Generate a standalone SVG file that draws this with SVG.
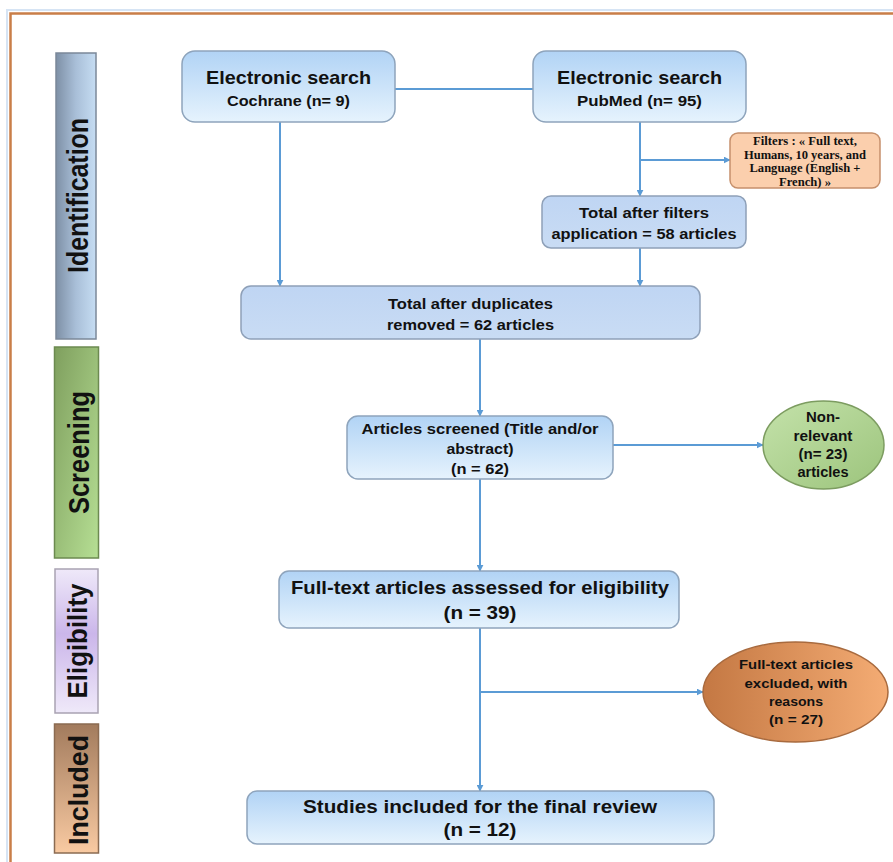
<svg xmlns="http://www.w3.org/2000/svg" width="893" height="862" viewBox="0 0 893 862">
<defs>
  <linearGradient id="gBox" x1="0" y1="0" x2="0" y2="1">
    <stop offset="0" stop-color="#b1d3f5"/>
    <stop offset="1" stop-color="#e6f3fd"/>
  </linearGradient>
  <linearGradient id="gTot" x1="0" y1="0" x2="0" y2="1">
    <stop offset="0" stop-color="#bfd5f3"/>
    <stop offset="1" stop-color="#c9dcf4"/>
  </linearGradient>
  <linearGradient id="gIdent" x1="0" y1="0" x2="1" y2="0">
    <stop offset="0" stop-color="#7e90a6"/>
    <stop offset="0.5" stop-color="#a9bfd8"/>
    <stop offset="1" stop-color="#c6ddf3"/>
  </linearGradient>
  <linearGradient id="gScreen" x1="0" y1="0" x2="1" y2="1">
    <stop offset="0" stop-color="#7f9f5e"/>
    <stop offset="1" stop-color="#b6df94"/>
  </linearGradient>
  <linearGradient id="gElig" x1="0" y1="0" x2="0" y2="1">
    <stop offset="0" stop-color="#efe9f9"/>
    <stop offset="0.45" stop-color="#cbb6ea"/>
    <stop offset="1" stop-color="#efe9f9"/>
  </linearGradient>
  <linearGradient id="gIncl" x1="0" y1="0" x2="0" y2="1">
    <stop offset="0" stop-color="#a27b5d"/>
    <stop offset="1" stop-color="#f9caa2"/>
  </linearGradient>
  <linearGradient id="gGreen" x1="0" y1="0" x2="1" y2="1">
    <stop offset="0" stop-color="#c4e2aa"/>
    <stop offset="1" stop-color="#9cc47c"/>
  </linearGradient>
  <linearGradient id="gOrange" x1="0" y1="0" x2="1" y2="0">
    <stop offset="0" stop-color="#c47843"/>
    <stop offset="1" stop-color="#f4ac74"/>
  </linearGradient>
  <marker id="arr" viewBox="0 0 10 10" refX="9" refY="5" markerWidth="3.5" markerHeight="3.5" orient="auto">
    <path d="M0,0 L10,5 L0,10 z" fill="#5b9bd5"/>
  </marker>
</defs>
<style>
  .box { fill: url(#gBox); stroke: #8ea4bc; stroke-width: 1.5; }
  .tot { fill: url(#gTot); stroke: #8ea0b8; stroke-width: 1.5; }
  .t { font-family: "Liberation Sans", Arial, sans-serif; font-weight: bold; fill: #111; text-anchor: middle; }
  .tf { font-family: "Liberation Serif", "Times New Roman", serif; font-weight: bold; fill: #111; text-anchor: middle; font-size: 12.5px; }
  .ph { font-family: "Liberation Sans", Arial, sans-serif; font-weight: bold; fill: #111; text-anchor: middle; font-size: 30px; }
  .c { fill: none; stroke: #5b9bd5; stroke-width: 2; }
  .ca { fill: none; stroke: #5b9bd5; stroke-width: 2; marker-end: url(#arr); }
</style>
<rect x="0" y="0" width="893" height="862" fill="#ffffff"/>
<!-- frame -->
<path d="M7,862 V10 H893" fill="none" stroke="#d6e4f4" stroke-width="2"/>
<path d="M10.5,862 V13.5 H893" fill="none" stroke="#c97e48" stroke-width="2.5"/>

<!-- phase bars -->
<g id="phase-identification">
  <rect x="56" y="53" width="40" height="286" fill="url(#gIdent)" stroke="#7b8899" stroke-width="1.5"/>
  <text class="ph" transform="translate(88,195.5) rotate(-90)" textLength="155" lengthAdjust="spacingAndGlyphs">Identification</text>
</g>
<g id="phase-screening">
  <rect x="54.5" y="347" width="44" height="211" fill="url(#gScreen)" stroke="#6c8a50" stroke-width="1.5"/>
  <text class="ph" transform="translate(89,452.5) rotate(-90)" textLength="123" lengthAdjust="spacingAndGlyphs">Screening</text>
</g>
<g id="phase-eligibility">
  <rect x="55" y="569" width="43" height="144" fill="url(#gElig)" stroke="#a9a2b2" stroke-width="1.5"/>
  <text class="ph" style="font-size:28px" transform="translate(87,641) rotate(-90)" textLength="115" lengthAdjust="spacingAndGlyphs">Eligibility</text>
</g>
<g id="phase-included">
  <rect x="54.5" y="724" width="44" height="129" fill="url(#gIncl)" stroke="#8b6b52" stroke-width="1.5"/>
  <text class="ph" style="font-size:28px" transform="translate(88,790) rotate(-90)" textLength="110" lengthAdjust="spacingAndGlyphs">Included</text>
</g>

<!-- connectors -->
<g id="connectors">
  <path class="c" d="M395,89 H533"/>
  <path class="ca" d="M280,122 V286"/>
  <path class="ca" d="M640,122 V196"/>
  <path class="ca" d="M640,160 H730"/>
  <path class="ca" d="M640,248 V286"/>
  <path class="ca" d="M480,339 V416"/>
  <path class="ca" d="M613,445 H763"/>
  <path class="ca" d="M480,479 V571"/>
  <path class="ca" d="M480,628 V791"/>
  <path class="ca" d="M480,692 H703"/>
</g>

<!-- nodes -->
<g id="cochrane">
  <rect class="box" x="182" y="51" width="213" height="71" rx="13"/>
  <text class="t" x="288.5" y="83.5" font-size="19" textLength="165" lengthAdjust="spacingAndGlyphs">Electronic search</text>
  <text class="t" x="288.5" y="105.5" font-size="15.5" textLength="123" lengthAdjust="spacingAndGlyphs">Cochrane (n= 9)</text>
</g>
<g id="pubmed">
  <rect class="box" x="533" y="51" width="213" height="71" rx="13"/>
  <text class="t" x="639.5" y="83.5" font-size="19" textLength="165" lengthAdjust="spacingAndGlyphs">Electronic search</text>
  <text class="t" x="639.5" y="105.5" font-size="15.5" textLength="125" lengthAdjust="spacingAndGlyphs">PubMed (n= 95)</text>
</g>
<g id="filters">
  <rect x="730" y="133" width="150" height="55" rx="8" fill="#fbcfad" stroke="#c6906c" stroke-width="1.5"/>
  <text class="tf" x="805" y="145" textLength="104" lengthAdjust="spacingAndGlyphs">Filters : « Full text,</text>
  <text class="tf" x="805" y="158.5" textLength="122" lengthAdjust="spacingAndGlyphs">Humans, 10 years, and</text>
  <text class="tf" x="805" y="172" textLength="111" lengthAdjust="spacingAndGlyphs">Language (English +</text>
  <text class="tf" x="805" y="185.5" textLength="52" lengthAdjust="spacingAndGlyphs">French) »</text>
</g>
<g id="after-filters">
  <rect class="tot" x="542" y="196" width="204" height="52" rx="9"/>
  <text class="t" x="644" y="217.5" font-size="15" textLength="130" lengthAdjust="spacingAndGlyphs">Total after filters</text>
  <text class="t" x="644" y="238.5" font-size="15" textLength="185" lengthAdjust="spacingAndGlyphs">application = 58 articles</text>
</g>
<g id="after-duplicates">
  <rect class="tot" x="241" y="286" width="459" height="53" rx="10"/>
  <text class="t" x="470.5" y="308.5" font-size="15" textLength="165" lengthAdjust="spacingAndGlyphs">Total after duplicates</text>
  <text class="t" x="470.5" y="329.5" font-size="15" textLength="167" lengthAdjust="spacingAndGlyphs">removed = 62 articles</text>
</g>
<g id="screened">
  <rect class="box" x="347" y="416" width="266" height="63" rx="11"/>
  <text class="t" x="480" y="433.5" font-size="15" textLength="237" lengthAdjust="spacingAndGlyphs">Articles screened (Title and/or</text>
  <text class="t" x="480" y="453.5" font-size="15" textLength="67" lengthAdjust="spacingAndGlyphs">abstract)</text>
  <text class="t" x="480" y="473.5" font-size="15" textLength="58" lengthAdjust="spacingAndGlyphs">(n = 62)</text>
</g>
<g id="non-relevant">
  <ellipse cx="823.5" cy="445" rx="60.5" ry="44" fill="url(#gGreen)" stroke="#7c9c60" stroke-width="1.5"/>
  <text class="t" x="823" y="422" font-size="14" textLength="34" lengthAdjust="spacingAndGlyphs">Non-</text>
  <text class="t" x="823" y="440.5" font-size="14" textLength="59" lengthAdjust="spacingAndGlyphs">relevant</text>
  <text class="t" x="823" y="459" font-size="14" textLength="49" lengthAdjust="spacingAndGlyphs">(n= 23)</text>
  <text class="t" x="823" y="477" font-size="14" textLength="51" lengthAdjust="spacingAndGlyphs">articles</text>
</g>
<g id="assessed">
  <rect class="box" x="279" y="571" width="400" height="57" rx="10"/>
  <text class="t" x="480" y="593.5" font-size="18" textLength="378" lengthAdjust="spacingAndGlyphs">Full-text articles assessed for eligibility</text>
  <text class="t" x="480" y="618.5" font-size="18" textLength="73" lengthAdjust="spacingAndGlyphs">(n = 39)</text>
</g>
<g id="excluded">
  <ellipse cx="795.5" cy="692" rx="92.5" ry="50" fill="url(#gOrange)" stroke="#a86a3e" stroke-width="1.5"/>
  <text class="t" x="796" y="669" font-size="13.5" textLength="114" lengthAdjust="spacingAndGlyphs">Full-text articles</text>
  <text class="t" x="796" y="687.5" font-size="13.5" textLength="103" lengthAdjust="spacingAndGlyphs">excluded, with</text>
  <text class="t" x="796" y="706" font-size="13.5" textLength="54" lengthAdjust="spacingAndGlyphs">reasons</text>
  <text class="t" x="796" y="724" font-size="13.5" textLength="54" lengthAdjust="spacingAndGlyphs">(n = 27)</text>
</g>
<g id="included">
  <rect class="box" x="247" y="791" width="467" height="53" rx="10"/>
  <text class="t" x="480" y="812.5" font-size="18" textLength="354" lengthAdjust="spacingAndGlyphs">Studies included for the final review</text>
  <text class="t" x="480" y="835.5" font-size="18" textLength="73" lengthAdjust="spacingAndGlyphs">(n = 12)</text>
</g>
</svg>
